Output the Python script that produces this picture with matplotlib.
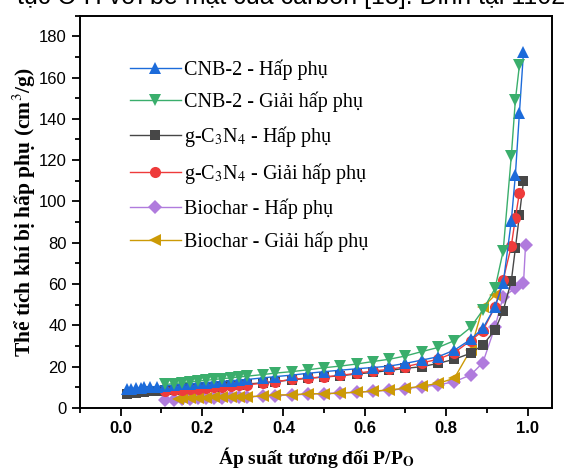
import matplotlib
matplotlib.use("Agg")
import matplotlib.pyplot as plt
from matplotlib.ticker import MultipleLocator

plt.rcParams['mathtext.fontset'] = 'stix'

# ---------------- data ----------------
x_low = [0.016, 0.026, 0.037, 0.049, 0.057, 0.072, 0.090]
x_mid = [0.11, 0.13, 0.15, 0.17, 0.19, 0.21, 0.23, 0.25, 0.27, 0.29, 0.31,
         0.35, 0.38, 0.42, 0.46, 0.50, 0.54, 0.58, 0.62, 0.66, 0.70, 0.74, 0.78,
         0.82, 0.86, 0.89, 0.92, 0.94, 0.96, 0.97, 0.98, 0.99]

cnb_ads_x = x_low + x_mid
cnb_ads_y = [9.0, 9.4, 9.6, 9.8, 10.0, 10.2, 10.4,
             10.8, 11.1, 11.4, 11.7, 12.0, 12.3, 12.6, 12.9, 13.2, 13.5, 13.8,
             14.6, 15.2, 15.9, 16.8, 17.6, 18.3, 19.0, 19.6, 20.3, 21.6, 23.2, 24.8,
             28.0, 33.2, 38.5, 49.0, 60.3, 90.5, 112.7, 142.9, 172.4]

cnb_des_x = [0.98, 0.97, 0.96, 0.94, 0.92, 0.89, 0.86, 0.82, 0.78, 0.74, 0.70,
             0.66, 0.62, 0.58, 0.54, 0.50, 0.46, 0.42, 0.38, 0.35,
             0.31, 0.29, 0.27, 0.25, 0.23, 0.21, 0.19, 0.17, 0.15, 0.13, 0.11]
cnb_des_y = [166.0, 149.0, 121.9, 76.0, 57.9, 47.4, 39.0, 32.6, 29.3, 27.3, 25.2,
             23.6, 22.5, 21.3, 20.3, 19.5, 18.5, 17.6, 16.9, 16.2,
             15.4, 15.0, 14.6, 14.2, 13.8, 13.4, 13.0, 12.6, 12.2, 11.8, 11.4]

gcn_ads_x = x_low + x_mid
gcn_ads_y = [7.0, 7.3, 7.5, 7.7, 7.9, 8.1, 8.3,
             8.6, 8.9, 9.2, 9.5, 9.8, 10.1, 10.4, 10.7, 11.0, 11.3, 11.6,
             12.2, 12.8, 13.6, 14.4, 15.0, 15.6, 16.5, 17.2, 18.2, 19.2, 20.0, 21.6,
             23.6, 26.5, 30.5, 37.7, 47.1, 61.4, 77.3, 93.4, 109.8]

gcn_des_x = [0.98, 0.97, 0.96, 0.94, 0.92, 0.89, 0.86, 0.82, 0.78, 0.74, 0.70,
             0.66, 0.62, 0.58, 0.54, 0.50, 0.46, 0.42, 0.38, 0.35,
             0.31, 0.29, 0.27, 0.25, 0.23, 0.21, 0.19, 0.17, 0.15, 0.13, 0.11]
gcn_des_y = [104.2, 92.0, 78.4, 62.0, 49.0, 37.4, 32.6, 26.8, 23.6, 21.8, 20.0,
             18.7, 17.9, 16.8, 15.8, 15.0, 14.5, 13.9, 12.6, 12.0,
             11.2, 10.9, 10.6, 10.3, 10.0, 9.7, 9.4, 9.1, 8.8, 8.5, 8.2]

bio_ads_x = [0.11, 0.13, 0.15, 0.17, 0.19, 0.21, 0.23, 0.25, 0.27, 0.29, 0.31,
             0.35, 0.38, 0.42, 0.46, 0.50, 0.54, 0.58, 0.62, 0.66, 0.70, 0.74, 0.78,
             0.82, 0.86, 0.89, 0.92, 0.94, 0.97, 0.99, 0.995]
bio_ads_y = [3.9, 4.1, 4.3, 4.5, 4.6, 4.8, 4.9, 5.0, 5.2, 5.3, 5.4,
             5.7, 6.0, 6.3, 6.7, 7.0, 7.3, 7.7, 8.1, 8.6, 9.4, 10.2, 11.2,
             12.7, 16.0, 21.9, 39.3, 53.9, 57.9, 60.3, 78.9]

bio_des_x = [0.92, 0.89, 0.86, 0.82, 0.78, 0.74, 0.70, 0.66, 0.62, 0.58, 0.54,
             0.50, 0.46, 0.42, 0.38, 0.35, 0.31, 0.29, 0.27, 0.25, 0.23, 0.21,
             0.19, 0.17, 0.15, 0.14]
bio_des_y = [54.7, 48.7, 28.1, 14.4, 11.9, 10.6, 9.5, 8.8, 8.1, 7.6, 7.2,
             6.9, 6.9, 6.4, 6.3, 5.8, 5.5, 5.4, 5.3, 5.2, 5.1, 5.0,
             4.9, 4.8, 4.6, 4.5]

labels = ["CNB-2 - Hấp phụ", "CNB-2 - Giải hấp phụ",
          "g-C$_3$N$_4$ - Hấp phụ", "g-C$_3$N$_4$ - Giải hấp phụ",
          "Biochar - Hấp phụ", "Biochar - Giải hấp phụ"]
colors = ["#1C6BDA", "#3AAE6C", "#474747", "#EE3B3B", "#B07BDD", "#CC9A06"]
markers = ["^", "v", "s", "o", "D", "<"]
msizes = [9, 9, 7, 8, 7, 9]

series = [(cnb_ads_x, cnb_ads_y), (cnb_des_x, cnb_des_y),
          (gcn_ads_x, gcn_ads_y), (gcn_des_x, gcn_des_y),
          (bio_ads_x, bio_ads_y), (bio_des_x, bio_des_y)]

# ---------------- figure ----------------
fig = plt.figure(figsize=(5.68, 4.72), dpi=100)
ax = fig.add_axes([0.1408, 0.1356, 0.831, 0.8314])

draw_order = [4, 5, 2, 3, 0, 1]
handles = {}
for i in draw_order:
    xs, ys = series[i]
    h, = ax.plot(xs, ys, color=colors[i], marker=markers[i], ms=msizes[i],
                 lw=1.0, markeredgewidth=0, label=labels[i])
    handles[i] = h

ax.set_xlim(-0.1, 1.06)
ax.set_ylim(0, 190)
ax.xaxis.set_major_locator(MultipleLocator(0.2))
ax.xaxis.set_minor_locator(MultipleLocator(0.1))
ax.yaxis.set_major_locator(MultipleLocator(20))
ax.yaxis.set_minor_locator(MultipleLocator(10))
ax.tick_params(which='both', direction='out', top=False, right=False, width=1.3)
ax.tick_params(which='major', length=6)
ax.tick_params(which='minor', length=3.5)
for s in ax.spines.values():
    s.set_linewidth(1.4)

for lab in ax.get_xticklabels():
    lab.set_fontfamily('Liberation Sans')
    lab.set_fontweight('bold')
    lab.set_fontsize(12)
for lab in ax.get_yticklabels():
    lab.set_fontfamily('Liberation Sans')
    lab.set_fontsize(12)

ax.set_xlabel(r"Áp suất tương đối P/P$_\mathbf{O}$", fontfamily='Liberation Serif',
              fontweight='bold', fontsize=14, labelpad=6)
ax.set_ylabel("Thể tích khí bị hấp phụ (cm$^3$/g)", fontfamily='Liberation Serif',
              fontweight='bold', fontsize=15.5, labelpad=0.5)

leg = ax.legend([handles[i] for i in range(6)], labels, loc='upper left',
                bbox_to_anchor=(0.068, 0.935), frameon=False,
                prop={'family': 'Liberation Serif', 'size': 14.5},
                handlelength=2.5, handletextpad=0.15, labelspacing=0.6)

fig.text(565 / 568, 1 - 4 / 472, "tục C-H với bề mặt của carbon [18]. Đỉnh tại 1102",
         fontfamily='Liberation Sans', fontsize=18, va='baseline', ha='right')

fig.savefig("out.png", dpi=100)
